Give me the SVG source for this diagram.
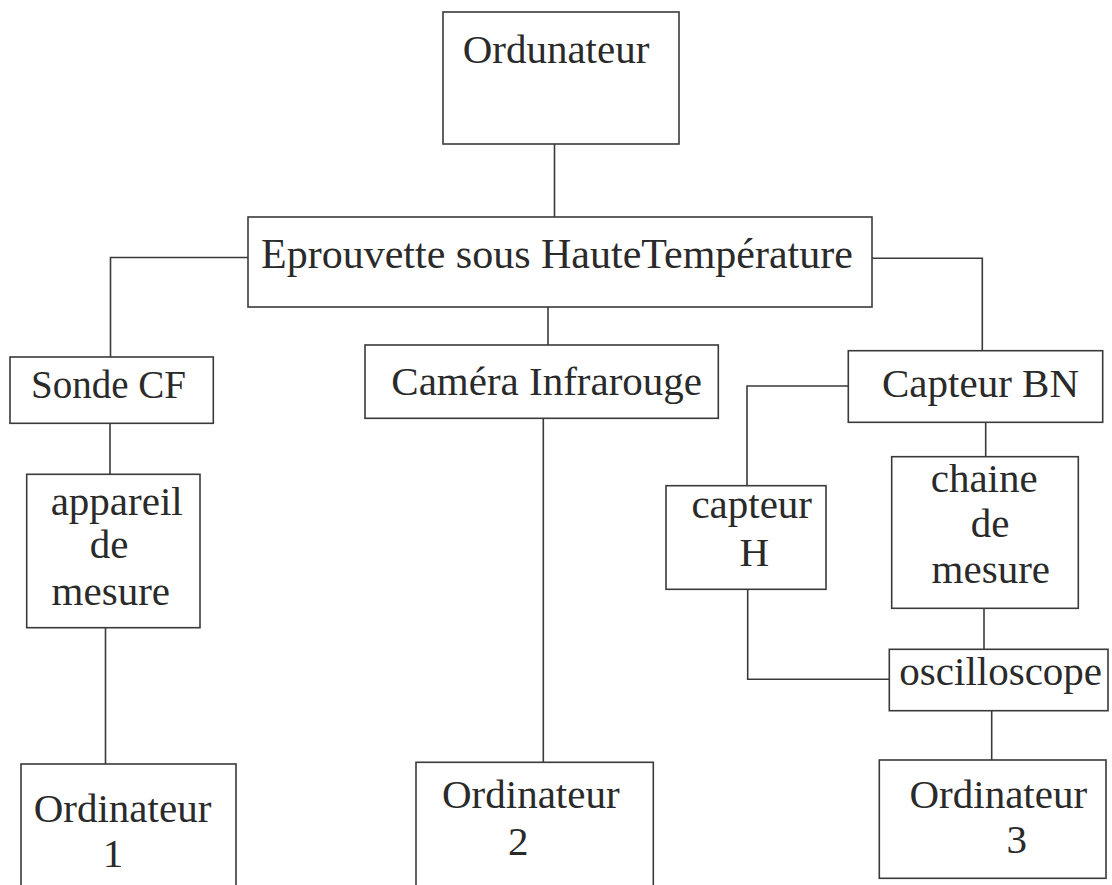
<svg xmlns="http://www.w3.org/2000/svg" width="1112" height="885" viewBox="0 0 1112 885">
<style>
.box{fill:none;stroke:#3a3a3a;stroke-width:1.6}
.ln{fill:none;stroke:#3a3a3a;stroke-width:1.6}
text{font-family:"Liberation Serif","Times New Roman",serif;font-size:41px;fill:#2a2a2a;text-anchor:middle}
</style>
<rect width="1112" height="885" fill="#ffffff"/>
<g id="connectors">
<path class="ln" d="M554.5 144 V217"/>
<path class="ln" d="M248 257.5 H110.5 V357"/>
<path class="ln" d="M872 258.3 H982.3 V350.7"/>
<path class="ln" d="M548 307 V345"/>
<path class="ln" d="M110 423 V474.3"/>
<path class="ln" d="M105.5 627.7 V764"/>
<path class="ln" d="M543.3 418.3 V762.3"/>
<path class="ln" d="M848.3 386 H747 V485.7"/>
<path class="ln" d="M985.7 422.3 V456.7"/>
<path class="ln" d="M747.7 589.3 V679.3 H889.3"/>
<path class="ln" d="M984 608.3 V649.3"/>
<path class="ln" d="M991.7 710.7 V760"/>
</g>
<g id="ordunateur"><rect class="box" x="443" y="12" width="236" height="132"/><text x="556" y="63">Ordunateur</text></g>
<g id="eprouvette"><rect class="box" x="248" y="217" width="624" height="90"/><text x="557" y="268" style="font-size:42px">Eprouvette sous HauteTempérature</text></g>
<g id="sonde"><rect class="box" x="10" y="357" width="203.3" height="66.3"/><text x="108.5" y="398" style="font-size:39px">Sonde CF</text></g>
<g id="camera"><rect class="box" x="365" y="345" width="353.3" height="73.3"/><text x="546.7" y="395">Caméra Infrarouge</text></g>
<g id="capteurbn"><rect class="box" x="848.3" y="350.7" width="254.4" height="71.6"/><text x="980.5" y="396.7">Capteur BN</text></g>
<g id="appareil"><rect class="box" x="26.7" y="474.3" width="173.3" height="153.4"/><text x="116.7" y="515">appareil</text><text x="109" y="558">de</text><text x="110.8" y="605">mesure</text></g>
<g id="capteurh"><rect class="box" x="666" y="485.7" width="160" height="103.6"/><text x="751.7" y="518.3">capteur</text><text x="754.3" y="565.7">H</text></g>
<g id="chaine"><rect class="box" x="891.7" y="456.7" width="186.6" height="151.6"/><text x="984.2" y="491.7">chaine</text><text x="990" y="536.7">de</text><text x="990.8" y="583.3">mesure</text></g>
<g id="oscilloscope"><rect class="box" x="889.3" y="649.3" width="218.7" height="61.4"/><text x="1000.7" y="685">oscilloscope</text></g>
<g id="ordinateur1"><rect class="box" x="21" y="764" width="215" height="140"/><text x="122.5" y="821.7">Ordinateur</text><text x="113" y="866.7">1</text></g>
<g id="ordinateur2"><rect class="box" x="416" y="762.3" width="237.3" height="140"/><text x="530.8" y="808.3">Ordinateur</text><text x="518.3" y="855">2</text></g>
<g id="ordinateur3"><rect class="box" x="879.3" y="760" width="226.7" height="118.3"/><text x="998.3" y="808.3">Ordinateur</text><text x="1016.7" y="853.3">3</text></g>
</svg>
